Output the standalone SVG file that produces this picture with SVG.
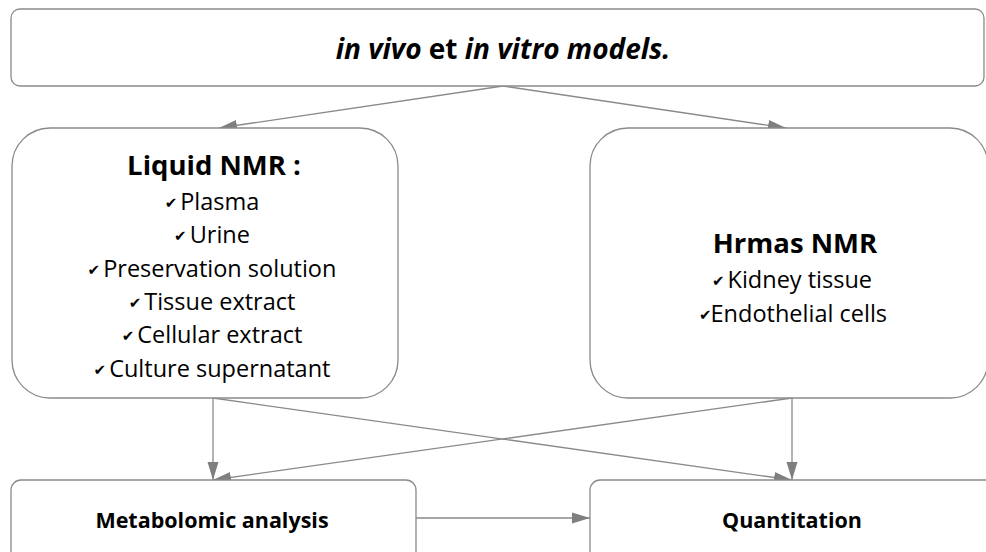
<svg xmlns="http://www.w3.org/2000/svg" width="986" height="552" viewBox="0 0 986 552">
<defs>
<marker id="arr" markerUnits="userSpaceOnUse" markerWidth="18" markerHeight="12" refX="18" refY="6" orient="auto">
<path d="M0,0.5 L18,6 L0,11.5 z" fill="#7f7f7f"/>
</marker>
<style>
.box{fill:#ffffff;stroke:#8a8a8a;stroke-width:1.3}
.con{stroke:#8a8a8a;stroke-width:1.3;fill:none;marker-end:url(#arr)}
.t{font-family:"Open Sans","Noto Sans",sans-serif;fill:#000;text-anchor:middle}
.h{font-size:27.5px;font-weight:bold}
.i{font-size:23.5px}
.b{font-size:21.5px;font-weight:bold}
.ck{font-family:"DejaVu Sans",sans-serif;font-size:15px}
</style>
</defs>
<rect width="986" height="552" fill="#ffffff"/>
<g id="connectors">
<line class="con" x1="503" y1="86" x2="219" y2="128"/>
<line class="con" x1="503" y1="86" x2="786" y2="128"/>
<line class="con" x1="213" y1="398" x2="213" y2="480"/>
<line class="con" x1="213" y1="398" x2="792" y2="480"/>
<line class="con" x1="792" y1="398" x2="792" y2="480"/>
<line class="con" x1="792" y1="398" x2="213" y2="480"/>
<line class="con" x1="416" y1="518" x2="590" y2="518"/>
</g>
<g id="models">
<rect class="box" x="11" y="9" width="973" height="77" rx="9"/>
<text class="t" x="503" y="59" font-size="28" font-weight="bold"><tspan font-style="italic">in vivo</tspan> et <tspan font-style="italic">in vitro models.</tspan></text>
</g>
<g id="liquid-nmr">
<rect class="box" x="12" y="128" width="386" height="270" rx="38"/>
<text class="t h" x="214" y="175">Liquid NMR :</text>
<text class="t i" x="212" y="210"><tspan class="ck" dy="-2">✔</tspan><tspan dx="3" dy="2">Plasma</tspan></text>
<text class="t i" x="212" y="243"><tspan class="ck" dy="-2">✔</tspan><tspan dx="3" dy="2">Urine</tspan></text>
<text class="t i" x="212" y="277"><tspan class="ck" dy="-2">✔</tspan><tspan dx="3" dy="2">Preservation solution</tspan></text>
<text class="t i" x="212" y="310"><tspan class="ck" dy="-2">✔</tspan><tspan dx="3" dy="2">Tissue extract</tspan></text>
<text class="t i" x="212" y="343"><tspan class="ck" dy="-2">✔</tspan><tspan dx="3" dy="2">Cellular extract</tspan></text>
<text class="t i" x="212" y="377"><tspan class="ck" dy="-2">✔</tspan><tspan dx="3" dy="2">Culture supernatant</tspan></text>
</g>
<g id="hrmas-nmr">
<rect class="box" x="590" y="128" width="398" height="270" rx="38"/>
<text class="t h" x="795" y="253">Hrmas NMR</text>
<text class="t i" x="792" y="288"><tspan class="ck" dy="-2">✔</tspan><tspan dx="3" dy="2">Kidney tissue</tspan></text>
<text class="t i" x="793" y="322"><tspan class="ck" dy="-2">✔</tspan><tspan dx="-1" dy="2">Endothelial cells</tspan></text>
</g>
<g id="metabolomic">
<rect class="box" x="11" y="480" width="405" height="90" rx="10"/>
<text class="t b" x="212" y="528">Metabolomic analysis</text>
</g>
<g id="quantitation">
<rect class="box" x="590" y="480" width="410" height="90" rx="10"/>
<text class="t b" x="792" y="528">Quantitation</text>
</g>
</svg>
